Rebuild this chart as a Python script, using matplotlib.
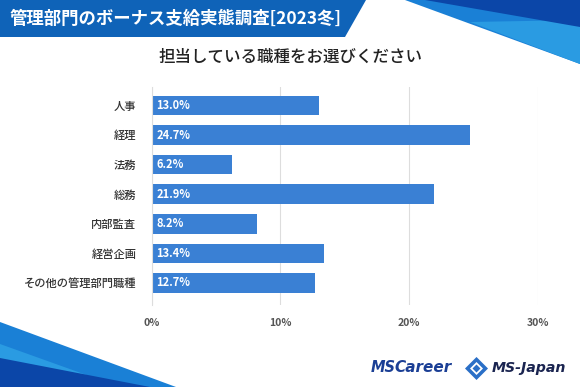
import matplotlib
matplotlib.use("Agg")
import matplotlib.pyplot as plt
from matplotlib.patches import Polygon
import numpy as np

plt.rcParams['font.family'] = ['Noto Sans CJK JP', 'DejaVu Sans']

# data
categories = ['人事', '経理', '法務', '総務', '内部監査', '経営企画', 'その他の管理部門職種']
values = [13.0, 24.7, 6.2, 21.9, 8.2, 13.4, 12.7]
xticks = [0, 10, 20, 30]
xtick_labels = ['0%', '10%', '20%', '30%']

header = '管理部門のボーナス支給実態調査[2023冬]'
subtitle = '担当している職種をお選びください'

W, H = 580, 387
fig = plt.figure(figsize=(W / 100, H / 100), dpi=100)
fig.patch.set_facecolor('white')


def px(x, y):
    # pixel coords (from top-left) -> figure fraction
    return (x / W, 1 - y / H)


def poly(points, color):
    fig.add_artist(Polygon([px(*p) for p in points], closed=True,
                           transform=fig.transFigure, facecolor=color,
                           edgecolor='none', zorder=0))


# header band
poly([(0, 0), (366, 0), (345, 37), (0, 37)], '#0F63B8')
fig.text(*px(10, 19), header, color='white', fontsize=12.5, fontweight='bold',
         va='center', ha='left')

# top-right stripes
poly([(405, 0), (580, 0), (580, 64)], '#1A80D6')
poly([(470, 22), (580, 20), (580, 64)], '#2A9BE2')
poly([(425, 0), (580, 0), (580, 27)], '#0B46A8')

# bottom-left stripes
poly([(0, 322), (176, 387), (0, 387)], '#1A80D6')
poly([(0, 344), (120, 387), (0, 387)], '#2A9BE2')
poly([(0, 358), (150, 387), (0, 387)], '#0B46A8')

fig.text(*px(290, 57), subtitle, color='#222222', fontsize=11.9,
         fontweight='medium', va='center', ha='center')

# chart
ax = fig.add_axes([151.7 / W, 1 - 305 / H, (538 - 151.7) / W, (305 - 87) / H])
y = np.arange(len(categories))
ax.barh(y, values, height=0.66, color='#3A80D4', zorder=2)
for yi, v in zip(y, values):
    ax.text(0.35, yi, f'{v:.1f}%', color='white', fontsize=8, fontweight='bold',
            va='center', ha='left', zorder=3)

ax.set_xlim(0, 30)
ax.set_ylim(6.75, -0.63)
ax.set_yticks(y)
ax.set_yticklabels(categories, fontsize=8.1, color='#333333', fontweight='medium')
ax.set_xticks(xticks)
ax.set_xticklabels(xtick_labels, fontsize=7.5, color='#555555', fontweight='bold')
ax.tick_params(length=0)
ax.tick_params(axis='y', pad=11)
ax.tick_params(axis='x', pad=9)
ax.grid(axis='x', color='#dddddd', linewidth=0.8, zorder=0)
for s in ['top', 'right', 'bottom']:
    ax.spines[s].set_visible(False)
ax.spines['left'].set_color('#dddddd')
ax.spines['left'].set_linewidth(0.8)

# logos
fig.text(*px(371, 368), 'MS', color='#1B3F95', fontsize=10.5, fontweight='bold',
         style='italic', va='center', ha='left', family='DejaVu Sans')
fig.text(*px(394, 368), 'Career', color='#1B3F95', fontsize=11, fontweight='bold',
         style='italic', va='center', ha='left', family='DejaVu Sans')
poly([(476.5, 357), (488, 368.5), (476.5, 380), (465, 368.5)], '#2A6FC7')
poly([(476.5, 362), (483, 368.5), (476.5, 375), (470, 368.5)], 'white')
poly([(476.5, 364.5), (480.5, 368.5), (476.5, 372.5), (472.5, 368.5)], '#2A6FC7')
fig.text(*px(492, 368), 'MS-Japan', color='#1A2450', fontsize=10.2, fontweight='bold',
         style='italic', va='center', ha='left', family='DejaVu Sans')

fig.savefig('out.png', dpi=100, facecolor='white')
